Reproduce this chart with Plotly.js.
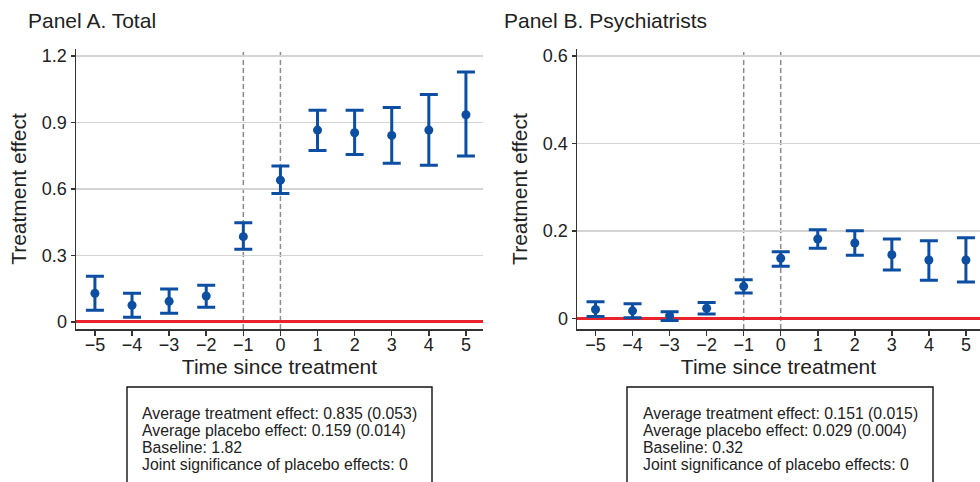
<!DOCTYPE html>
<html>
<head>
<meta charset="utf-8">
<script src="https://cdn.plot.ly/plotly-3.0.1.min.js"></script>
<style>
  html, body { margin: 0; padding: 0; background: #fff; }
  #chart { width: 980px; height: 482px; }
</style>
</head>
<body>
<div id="chart"></div>
<script>
// Event-study estimates with 95% confidence bounds
const periods = [-5, -4, -3, -2, -1, 0, 1, 2, 3, 4, 5];

const totalEst   = [0.129, 0.075, 0.093, 0.117, 0.385, 0.640, 0.866, 0.854, 0.842, 0.866, 0.935];
const totalLow   = [0.053, 0.021, 0.039, 0.066, 0.328, 0.580, 0.774, 0.756, 0.716, 0.707, 0.749];
const totalHigh  = [0.206, 0.129, 0.149, 0.165, 0.448, 0.704, 0.956, 0.956, 0.968, 1.027, 1.128];

const psychEst   = [0.021, 0.018, 0.007, 0.024, 0.074, 0.138, 0.182, 0.173, 0.146, 0.134, 0.134];
const psychLow   = [0.005, 0.002, -0.004, 0.011, 0.059, 0.120, 0.161, 0.145, 0.111, 0.088, 0.084];
const psychHigh  = [0.039, 0.034, 0.016, 0.037, 0.089, 0.153, 0.203, 0.201, 0.182, 0.178, 0.185];

const panelTitles = ["Panel A. Total", "Panel B. Psychiatrists"];
const totalYTicks = [0, 0.3, 0.6, 0.9, 1.2];
const psychYTicks = [0, 0.2, 0.4, 0.6];
const eventLines  = [-1, 0];

const totalNotes = [
  "Average treatment effect: 0.835 (0.053)",
  "Average placebo effect: 0.159 (0.014)",
  "Baseline: 1.82",
  "Joint significance of placebo effects: 0"
];
const psychNotes = [
  "Average treatment effect: 0.151 (0.015)",
  "Average placebo effect: 0.029 (0.004)",
  "Baseline: 0.32",
  "Joint significance of placebo effects: 0"
];

const W = 980, H = 482;
const px = v => v / W;          // horizontal pixel -> paper fraction
const py = v => 1 - v / H;      // vertical pixel (from top) -> paper fraction

const BLUE = "#0b4ea2";
const FONT = "Liberation Sans, Arial, Helvetica, sans-serif";
const TXT = "#222222";

function errTrace(est, lo, hi, xa, ya) {
  return {
    type: "scatter", mode: "markers",
    x: periods, y: est, xaxis: xa, yaxis: ya,
    marker: { color: BLUE, size: 9 },
    error_y: {
      type: "data", symmetric: false,
      array: hi.map((h, i) => h - est[i]),
      arrayminus: lo.map((l, i) => est[i] - l),
      color: BLUE, thickness: 3, width: 9
    },
    hoverinfo: "x+y", showlegend: false
  };
}

const data = [
  errTrace(totalEst, totalLow, totalHigh, "x", "y"),
  errTrace(psychEst, psychLow, psychHigh, "x2", "y2")
];

const plotTop = 49, plotBottom = 329;

function xAxis(domain, range, anchor) {
  return {
    domain: domain, range: range, anchor: anchor,
    tickmode: "array", tickvals: periods,
    ticks: "outside", ticklen: 5, tickwidth: 1.5, tickcolor: "#333",
    ticklabelstandoff: -6,
    showline: true, linecolor: "#333", linewidth: 1.5,
    showgrid: false, zeroline: false,
    tickfont: { family: FONT, size: 18, color: TXT },
    title: { text: "Time since treatment", font: { family: FONT, size: 21, color: TXT }, standoff: 4 },
    fixedrange: true
  };
}
function yAxis(domain, range, ticks, anchor) {
  return {
    domain: domain, range: range, anchor: anchor,
    tickmode: "array", tickvals: ticks,
    ticks: "outside", ticklen: 4, tickwidth: 1.5, tickcolor: "#333",
    showline: true, linecolor: "#333", linewidth: 1.5,
    showgrid: true, gridcolor: "#d4d4d4", gridwidth: 1.5,
    zeroline: true, zerolinecolor: "#e8232b", zerolinewidth: 3,
    tickfont: { family: FONT, size: 18, color: TXT },
    title: { text: "Treatment effect", font: { family: FONT, size: 21, color: TXT }, standoff: 9 },
    fixedrange: true
  };
}

const yDom = [py(plotBottom), py(plotTop)];

const shapes = [];
[["x", "y"], ["x2", "y2"]].forEach(([xa, ya]) => {
  eventLines.forEach(t => shapes.push({
    type: "line", xref: xa, yref: ya + " domain",
    x0: t, x1: t, y0: 0, y1: 1, layer: "below",
    line: { color: "#8a8a8a", width: 1.5, dash: "5px,3px" }
  }));
});
// note boxes below each panel
[[127, 432], [627, 933]].forEach(([a, b]) => shapes.push({
  type: "rect", xref: "paper", yref: "paper",
  x0: px(a), x1: px(b), y0: py(387), y1: -0.1,
  line: { color: "#111", width: 1.4 }
}));

const annotations = [];
[[26, panelTitles[0]], [502, panelTitles[1]]].forEach(([x, t]) => annotations.push({
  xref: "paper", yref: "paper", x: px(x), y: py(21),
  xanchor: "left", yanchor: "middle", showarrow: false, text: t,
  font: { family: FONT, size: 21, color: TXT }
}));
[[140, totalNotes], [641, psychNotes]].forEach(([x, lines]) => {
  lines.forEach((t, i) => annotations.push({
    xref: "paper", yref: "paper", x: px(x), y: py(413 + i * 17),
    xanchor: "left", yanchor: "middle", showarrow: false, text: t,
    font: { family: FONT, size: 15.8, color: TXT }
  }));
});

const layout = {
  width: W, height: H,
  margin: { l: 0, r: 0, t: 0, b: 0 },
  paper_bgcolor: "#fff", plot_bgcolor: "#fff",
  xaxis: xAxis([px(76), px(483)], [-5.51, 5.46], "y"),
  yaxis: yAxis(yDom, [-0.032, 1.232], totalYTicks, "x"),
  xaxis2: xAxis([px(577), 1], [-5.5, 5.38], "y2"),
  yaxis2: yAxis(yDom, [-0.0235, 0.616], psychYTicks, "x2"),
  shapes: shapes,
  annotations: annotations,
  showlegend: false
};

Plotly.newPlot("chart", data, layout, { displayModeBar: false, staticPlot: true });
</script>
</body>
</html>
